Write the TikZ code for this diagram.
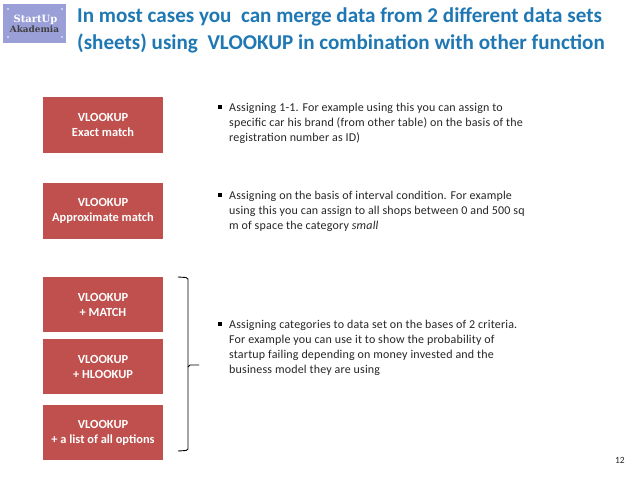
\documentclass[tikz,border=0pt]{standalone}
\usepackage{fontspec}
\setmainfont{Carlito}
\newfontfamily\logofont{DejaVu Serif}
\definecolor{boxred}{HTML}{C0504D}
\definecolor{titleblue}{HTML}{1F78B4}
\definecolor{logoblue}{HTML}{9A9FD8}
\tikzset{
  x=1pt,y=-1pt,
  redbox/.style={fill=boxred,draw=none,minimum width=120pt,align=center,text=white,inner sep=0pt,font=\fontsize{12.4}{15}\selectfont\bfseries,execute at begin node=\rule{0pt}{9.8pt}},
  titleline/.style={anchor=base west,inner sep=0pt,text=titleblue,font=\fontsize{21.1}{24}\selectfont\bfseries},
  bodyline/.style={anchor=base west,inner sep=0pt,text=black!85,font=\fontsize{12}{12}\selectfont\addfontfeature{LetterSpace=1.5}},
  bullet/.style={fill=black,minimum size=3.4pt,inner sep=0pt},
  logodot/.style={fill=white,circle,minimum size=1.6pt,inner sep=0pt},
  brace/.style={draw=black,line width=0.9pt}
}
\begin{document}
\begin{tikzpicture}
\useasboundingbox (0,0) rectangle (638,479);
\fill[white] (0,0) rectangle (638,479);
% logo
\node[fill=logoblue,minimum width=63pt,minimum height=39pt,inner sep=0pt] (logo) at (34.5,23.5) {};
\node[text=white,inner sep=0pt,font=\logofont\fontsize{10}{10}\selectfont\bfseries] (logoA) at (35.5,20) {StartUp};
\node[text=black!75,inner sep=0pt,font=\logofont\fontsize{8.9}{9}\selectfont\bfseries] (logoB) at (34.5,29.5) {Akademia};
\foreach \n/\px/\py in {p1/8/9,p2/62/9,p3/8/37,p4/62/37}{
  \node[logodot] (\n) at (\px,\py) {};
}
% title
\node[titleline] (t1) at (77,23) {In most cases you\ \ can merge data from 2 different data sets};
\node[titleline] (t2) at (77,49) {(sheets) using\ \ VLOOKUP in combination with other function};
% boxes
\node[redbox,minimum height=56pt] (b1) at (103,125) {VLOOKUP\\Exact match};
\node[redbox,minimum height=56pt] (b2) at (103,211) {VLOOKUP\\Approximate match};
\node[redbox,minimum height=55pt] (b3) at (103,304.5) {VLOOKUP\\+ MATCH};
\node[redbox,minimum height=55pt] (b4) at (103,366.5) {VLOOKUP\\+ HLOOKUP};
\node[redbox,minimum height=55pt] (b5) at (103,432.5) {VLOOKUP\\+ a list of all options};
% brace
\coordinate (bt) at (178,277);
\coordinate (bb) at (178,451);
\coordinate (bm) at (199,365);
\draw[brace] (bt) -- (186,277.5) -- (188,279) -- (188,449) -- (186,450.5) -- (bb);
\draw[brace] (188,367) -- (190,365) -- (bm);
% text 1
\node[bullet] (d1) at (220,107) {};
\node[bodyline] (a1) at (229,111.5) {Assigning 1-1. For example using this you can assign to};
\node[bodyline] (a2) at (229,126.5) {specific car his brand (from other table) on the basis of the};
\node[bodyline] (a3) at (229,141.5) {registration number as ID)};
\node[bullet] (d2) at (220,195) {};
\node[bodyline] (b1t) at (229,199.5) {Assigning on the basis of interval condition. For example};
\node[bodyline] (b2t) at (229,214.5) {using this you can assign to all shops between 0 and 500 sq};
\node[bodyline] (b3t) at (229,229.5) {m of space the category \textit{small}};
\node[bullet] (d3) at (220,324) {};
\node[bodyline] (c1t) at (229,328) {Assigning categories to data set on the bases of 2 criteria.};
\node[bodyline] (c2t) at (229,343) {For example you can use it to show the probability of};
\node[bodyline] (c3t) at (229,358) {startup failing depending on money invested and the};
\node[bodyline] (c4t) at (229,373) {business model they are using};
\node[anchor=base east,inner sep=0pt,text=black!85,font=\fontsize{9.5}{10}\selectfont] (pg) at (625,463) {12};
\end{tikzpicture}
\end{document}
